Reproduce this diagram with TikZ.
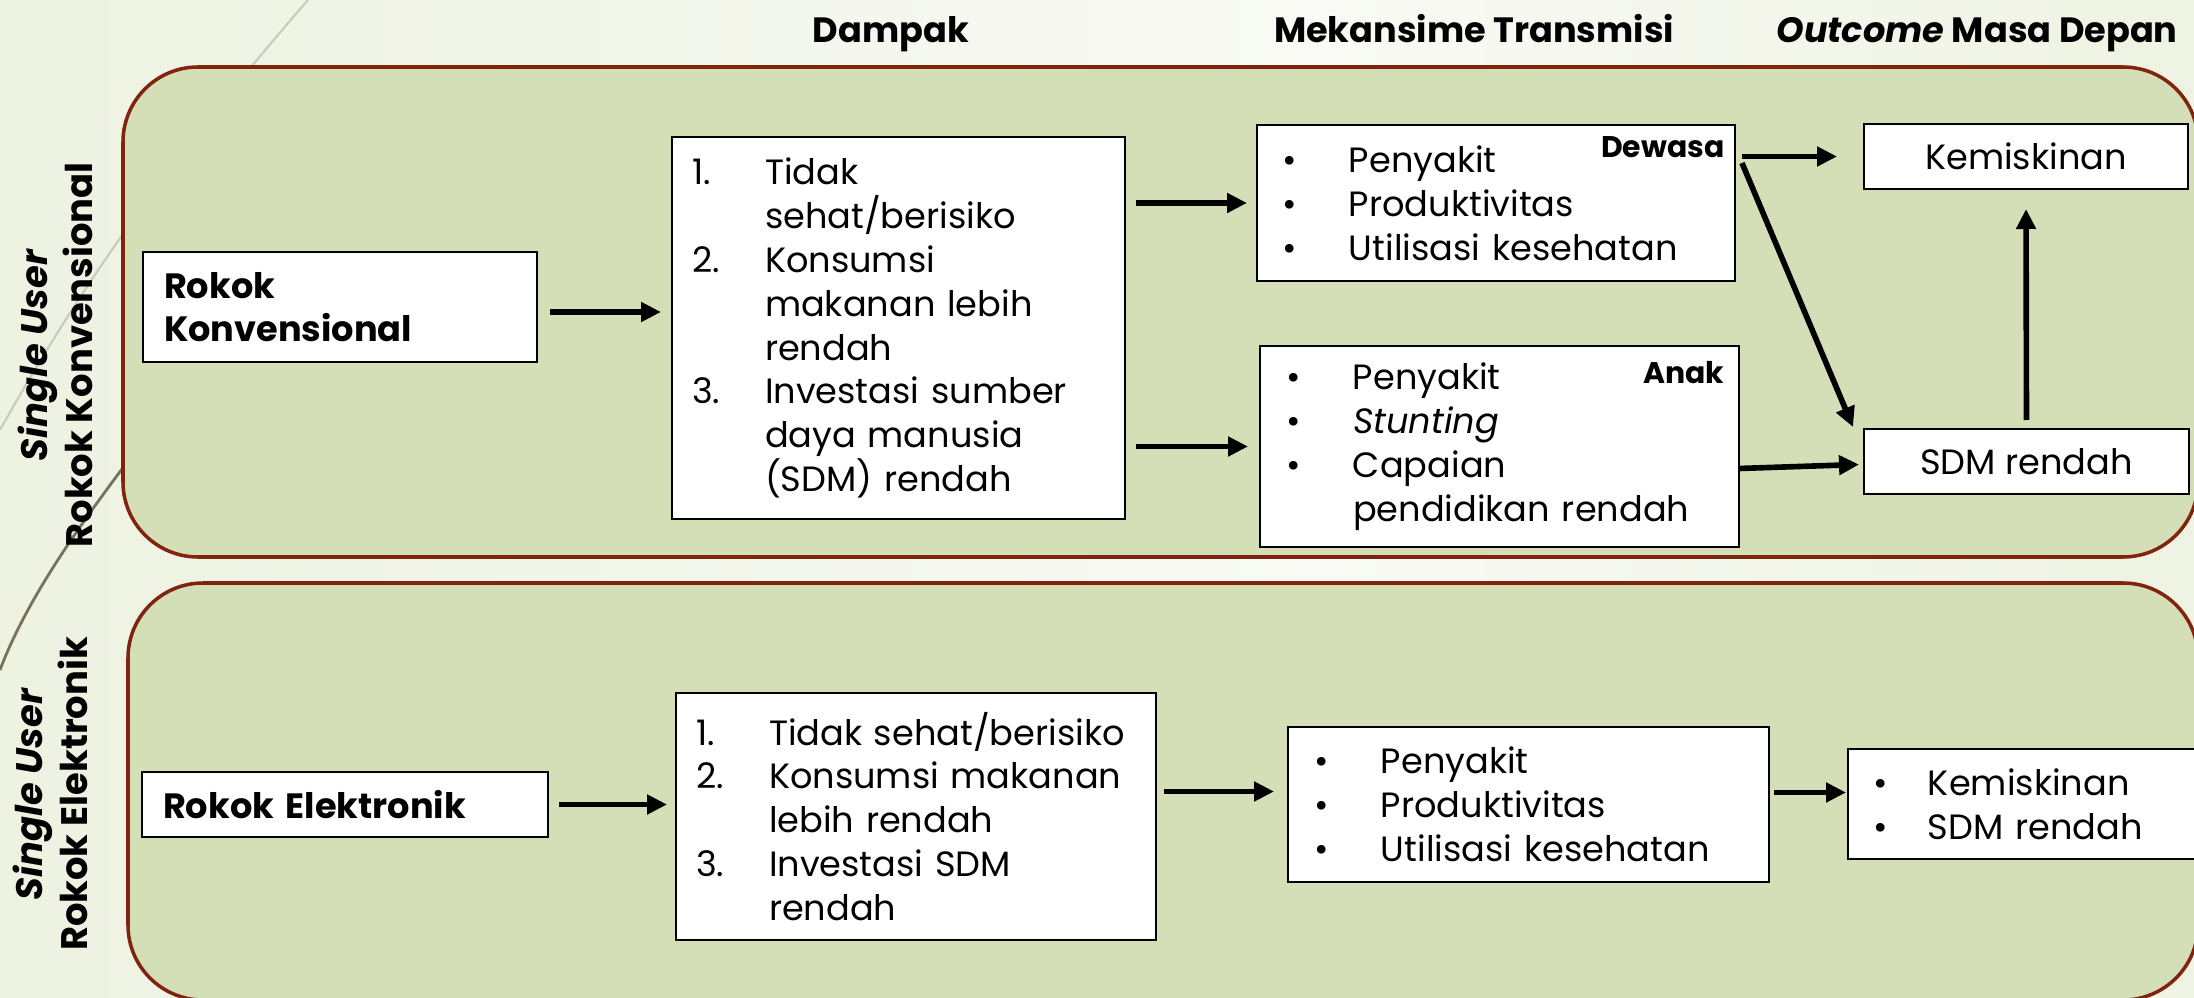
\documentclass[tikz,border=0pt]{standalone}
\usepackage{fontspec}
\setmainfont{Poppins}
\usepackage{xcolor}
\usepackage{tikz}
\usetikzlibrary{positioning,arrows.meta}

\definecolor{panelfill}{HTML}{D4DFB8}
\definecolor{panelline}{HTML}{80230F}
\definecolor{bgleft}{HTML}{E3EBD0}
\definecolor{bgmid}{HTML}{F9FAF5}
\definecolor{bgright}{HTML}{E2EACC}
\definecolor{wisplight}{HTML}{C9CCBA}
\definecolor{wispdark}{HTML}{7A705E}

\pgfdeclarehorizontalshading{bgshade}{100bp}{color(0bp)=(bgleft); color(55bp)=(bgmid); color(100bp)=(bgright)}

\newcommand{\lnum}[2]{\mbox{\makebox[7.3mm][l]{#1}#2}}
\newcommand{\lind}[1]{\mbox{\hspace*{7.3mm}#1}}
\newcommand{\lbul}[2][6.7mm]{\mbox{\makebox[#1][l]{\textbullet}#2}}
\newcommand{\lbind}[2][6.7mm]{\mbox{\hspace*{#1}#2}}

\begin{document}
\begin{tikzpicture}[
        x=0.1mm, y=-0.1mm,
        panel/.style={
            draw=panelline,
            line width=1pt,
            fill=panelfill,
            rounded corners=7.5mm
        },
        box/.style={
            draw,
            fill=white,
            line width=0.6pt,
            anchor=north west,
            align=left,
            inner ysep=0pt,
            outer sep=0pt,
            font=\fontsize{10}{12.5}\selectfont
        },
        srcbox/.style={box, font=\fontsize{10}{12.2}\selectfont\bfseries},
        outbox/.style={box, align=center},
        tag/.style={anchor=north east, inner sep=0pt, font=\fontsize{8.5}{10}\selectfont\bfseries},
        header/.style={anchor=base, font=\fontsize{10}{12}\selectfont\bfseries},
        sidelabel/.style={rotate=90, align=center, font=\fontsize{10.5}{12.8}\selectfont\bfseries},
        link/.style={-{Triangle[length=2mm,width=1.9mm]}, line width=1.6pt}
    ]
        \useasboundingbox (0,0) rectangle (2194,998);
        \clip (0,0) rectangle (2194,998);
        \shade[shading=bgshade] (0,0) rectangle (2194,998);
        \draw[wisplight, line width=0.6pt] (308,0) .. controls (195,130) and (95,260) .. (0,430);
        \draw[wispdark, line width=0.8pt] (140,445) .. controls (95,505) and (30,590) .. (0,670);

        \draw[panel] (123,67) rectangle (2198,557);
        \draw[panel] (128,583) rectangle (2198,1000);

        \node[header] (hdDampak) at (891,43) {Dampak};
        \node[header] (hdTrans) at (1474,43) {Mekansime Transmisi};
        \node[header] (hdOutcome) at (1977,43) {\textit{Outcome} Masa Depan};

        \node[sidelabel] (lblKonv) at (55,355) {\textit{Single User}\\Rokok Konvensional};
        \node[sidelabel] (lblElek) at (50,794) {\textit{Single User}\\Rokok Elektronik};

        \node[srcbox, minimum width=39.4mm, minimum height=11mm, inner xsep=2.1mm, text width=35.2mm] (srcKonv) at (143,252) {Rokok\\Konvensional};
        \node[srcbox, minimum width=40.6mm, minimum height=6.5mm, inner xsep=2.1mm, text width=36.4mm] (srcElek) at (142,772) {Rokok Elektronik};

        \node[box, minimum width=45.3mm, minimum height=38.2mm, inner xsep=2mm, text width=41.3mm] (dampakKonv) at (672,137) {
            \lnum{1.}{Tidak}\\
            \lind{sehat/berisiko}\\
            \lnum{2.}{Konsumsi}\\
            \lind{makanan lebih}\\
            \lind{rendah}\\
            \lnum{3.}{Investasi sumber}\\
            \lind{daya manusia}\\
            \lind{(SDM) rendah}
        };
        \node[box, minimum width=48mm, minimum height=24.7mm, inner xsep=2mm, text width=44mm] (dampakElek) at (676,693) {
            \lnum{1.}{Tidak sehat/berisiko}\\
            \lnum{2.}{Konsumsi makanan}\\
            \lind{lebih rendah}\\
            \lnum{3.}{Investasi SDM}\\
            \lind{rendah}
        };

        \node[box, minimum width=47.8mm, minimum height=15.6mm, inner xsep=2.5mm, text width=42.8mm] (transDewasa) at (1257,125) {
            \lbul{Penyakit}\\
            \lbul{Produktivitas}\\
            \lbul{Utilisasi kesehatan}
        };
        \node[box, minimum width=47.9mm, minimum height=20.1mm, inner xsep=2.6mm, text width=42.7mm] (transAnak) at (1260,346) {
            \lbul{Penyakit}\\
            \lbul{\textit{Stunting}}\\
            \lbul{Capaian}\\
            \lbind{pendidikan rendah}
        };
        \node[box, minimum width=48.1mm, minimum height=15.5mm, inner xsep=2.6mm, text width=42.9mm] (transElek) at (1288,727) {
            \lbul{Penyakit}\\
            \lbul{Produktivitas}\\
            \lbul{Utilisasi kesehatan}
        };
        \node[tag] (tagDewasa) at ([xshift=-1mm,yshift=-1.1mm]transDewasa.north east) {Dewasa};
        \node[tag] (tagAnak) at ([xshift=-1.4mm,yshift=-1.5mm]transAnak.north east) {Anak};

        \node[outbox, minimum width=32.4mm, minimum height=6.5mm] (outKemiskinan) at (1864,124) {Kemiskinan};
        \node[outbox, minimum width=32.5mm, minimum height=6.5mm] (outSDM) at (1864,429) {SDM rendah};
        \node[box, minimum width=35.1mm, minimum height=11mm, inner xsep=2.5mm, text width=30.1mm] (outElek) at (1848,749) {
            \lbul[5.5mm]{Kemiskinan}\\
            \lbul[5.5mm]{SDM rendah}
        };

        \coordinate (aKonv) at ([yshift=-0.5mm]srcKonv.east);
        \coordinate (aElek) at ([yshift=2.5mm]dampakElek.east);
        \coordinate (bElek) at ([yshift=1.2mm]transElek.east);

        \draw[link, shorten <=1.3mm, shorten >=1.1mm] (aKonv) -- (aKonv -| dampakKonv.west);
        \draw[link, shorten <=1.1mm, shorten >=1mm] (dampakKonv.east |- transDewasa.west) -- (transDewasa.west);
        \draw[link, shorten <=1.1mm, shorten >=1.2mm] (dampakKonv.east |- transAnak.west) -- (transAnak.west);
        \draw[link, shorten <=0.7mm, shorten >=2.7mm] (transDewasa.east |- outKemiskinan.west) -- (outKemiskinan.west);
        \draw[link] ([xshift=0.7mm,yshift=-3.8mm]transDewasa.north east) -- ([xshift=-1.1mm,yshift=0.2mm]outSDM.north west);
        \draw[link] ([yshift=-2.2mm]transAnak.east) -- ([xshift=-0.5mm,yshift=-0.3mm]outSDM.west);
        \draw[link, shorten <=0.9mm, shorten >=2mm] (outSDM.north) -- (outKemiskinan.south);

        \draw[link, shorten <=1.1mm, shorten >=0.9mm] (srcElek.east) -- (srcElek.east -| dampakElek.west);
        \draw[link, shorten <=0.8mm, shorten >=1.4mm] (aElek) -- (aElek -| transElek.west);
        \draw[link, shorten <=0.5mm, shorten >=0.2mm] (bElek) -- (bElek -| outElek.west);
    \end{tikzpicture}
\end{document}
